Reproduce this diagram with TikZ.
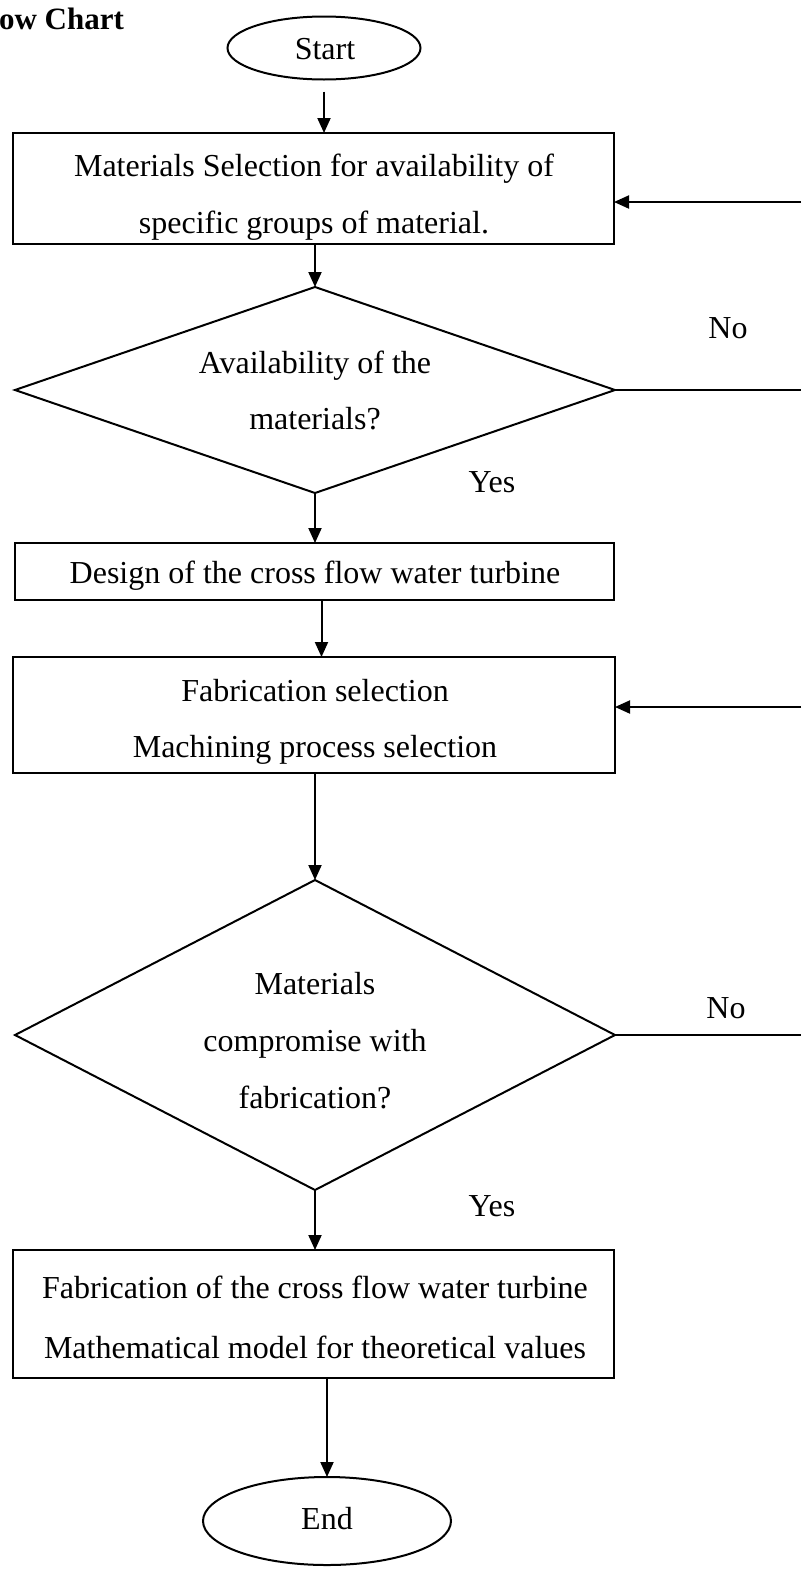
\documentclass[tikz,border=0pt]{standalone}
\usepackage{fontspec}
\setmainfont{Liberation Serif}
\usetikzlibrary{shapes.geometric,arrows.meta}
\begin{document}
\begin{tikzpicture}[x=1pt,y=-1pt,
  every path/.style={line width=2pt},
  shp/.style={draw=black, line width=2pt, inner sep=0pt, outer sep=0pt},
  boxshape/.style={shp, rectangle},
  ellshape/.style={shp, ellipse},
  decshape/.style={shp, diamond},
  lbl/.style={inner sep=0pt, text height=22pt, text depth=0pt, font=\fontsize{32}{38}\selectfont},
  arr/.style={-{Triangle[length=15pt,width=13pt]}, line width=2pt}
]
\useasboundingbox (0,0) rectangle (801,1569);
\fill[white] (0,0) rectangle (801,1569);

% title (clipped)
\node[lbl, anchor=west, font=\fontsize{31}{36}\selectfont\bfseries] (title) at (-2,18) {ow Chart};

% shapes
\node[ellshape, minimum width=193pt, minimum height=63pt] (start) at (324,48) {};
\node[lbl] (starttxt) at (325,48) {Start};

\node[boxshape, minimum width=601pt, minimum height=111pt] (b1) at (313.5,188.5) {};
\node[lbl] (b1a) at (314,165) {Materials Selection for availability of};
\node[lbl] (b1b) at (314,222) {specific groups of material.};

\node[decshape, minimum width=600pt, minimum height=206pt] (d1) at (315,390) {};
\node[lbl] (d1a) at (315,362) {Availability of the};
\node[lbl] (d1b) at (315,418) {materials?};
\node[lbl] (no1) at (728,327) {No};
\node[lbl] (yes1) at (492,481) {Yes};

\node[boxshape, minimum width=599pt, minimum height=57pt] (b2) at (314.5,571.5) {};
\node[lbl] (b2a) at (315,572) {Design of the cross flow water turbine};

\node[boxshape, minimum width=602pt, minimum height=116pt] (b3) at (314,715) {};
\node[lbl] (b3a) at (315,690) {Fabrication selection};
\node[lbl] (b3b) at (315,746) {Machining process selection};

\node[decshape, minimum width=600pt, minimum height=310pt] (d2) at (315,1035) {};
\node[lbl] (d2a) at (315,983) {Materials};
\node[lbl] (d2b) at (315,1040) {compromise with};
\node[lbl] (d2c) at (315,1097) {fabrication?};
\node[lbl] (no2) at (726,1007) {No};
\node[lbl] (yes2) at (492,1205) {Yes};

\node[boxshape, minimum width=601pt, minimum height=128pt] (b4) at (313.5,1314) {};
\node[lbl] (b4a) at (315,1287) {Fabrication of the cross flow water turbine};
\node[lbl] (b4b) at (315,1347) {Mathematical model for theoretical values};

\node[ellshape, minimum width=248pt, minimum height=88pt] (end) at (327,1521) {};
\node[lbl] (endtxt) at (327,1518) {End};

% edge coordinates for loop-back lines
\coordinate (r1in) at (801,202);
\coordinate (r1out) at (801,390);
\coordinate (r2in) at (801,707);
\coordinate (r2out) at (801,1035);

% connectors
\draw[arr] ([yshift=-12pt]start.south) -- (start.south |- b1.north);
\draw[arr] (d1.north |- b1.south) -- (d1.north);
\draw[arr] (d1.south) -- (d1.south |- b2.north);
\draw[arr] ([xshift=7pt]b2.south) -- ([xshift=7pt]b2.south |- b3.north);
\draw[arr] (d2.north |- b3.south) -- (d2.north);
\draw[arr] (d2.south) -- (d2.south |- b4.north);
\draw[arr] (end.north |- b4.south) -- (end.north);

\draw (d1.east) -- (r1out);
\draw[arr] (r1in) -- (b1.east |- r1in);
\draw (d2.east) -- (r2out);
\draw[arr] (r2in) -- (b3.east |- r2in);
\end{tikzpicture}
\end{document}
